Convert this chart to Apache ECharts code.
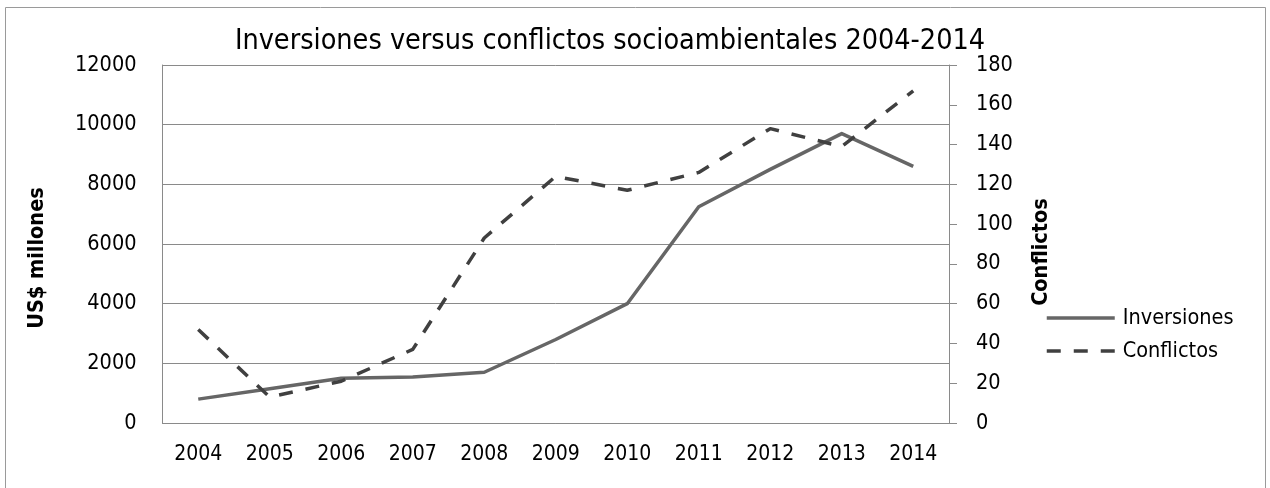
<!DOCTYPE html>
<html>
<head>
<meta charset="utf-8">
<script src="https://cdn.jsdelivr.net/npm/echarts@6/dist/echarts.min.js"></script>
<style>
html,body{margin:0;padding:0;background:#fff;}
#chart{width:1270px;height:488px;}
</style>
</head>
<body>
<div id="chart"></div>
<script>
const years = ['2004','2005','2006','2007','2008','2009','2010','2011','2012','2013','2014'];
const inversiones = [800, 1150, 1500, 1540, 1700, 2800, 4000, 7250, 8500, 9700, 8600];
const conflictos = [47, 13, 21, 37, 93, 124, 117, 126, 148, 139, 167];
const titleText = 'Inversiones versus conflictos socioambientales 2004-2014';
const leftName = 'US$ millones';
const rightName = 'Conflictos';

const FONT = '"DejaVu Sans Condensed", "DejaVu Sans", sans-serif';
const GRAY = '#8a8a8a';
const plain = v => String(v);

const chart = echarts.init(document.getElementById('chart'), null, {renderer: 'canvas'});
chart.setOption({
  animation: false,
  backgroundColor: '#ffffff',
  textStyle: {fontFamily: FONT},
  grid: {left: 162.5, right: 321, top: 65, bottom: 65, containLabel: false},
  graphic: [
    {type: 'rect', shape: {x: 5.5, y: 7.5, width: 1260, height: 490}, style: {fill: 'none', stroke: '#9a9a9a', lineWidth: 1}, silent: true},
    {type: 'text', x: 610, y: 42, style: {text: titleText, font: '28.5px ' + FONT, fill: '#000', textAlign: 'center', textVerticalAlign: 'middle'}},
    {type: 'text', x: 37, y: 258, rotation: Math.PI / 2, style: {text: leftName, font: 'bold 21.5px ' + FONT, fill: '#000', textAlign: 'center', textVerticalAlign: 'middle'}},
    {type: 'text', x: 1041, y: 252, rotation: Math.PI / 2, style: {text: rightName, font: 'bold 21.5px ' + FONT, fill: '#000', textAlign: 'center', textVerticalAlign: 'middle'}}
  ],
  legend: {
    orient: 'vertical',
    left: 1045,
    top: 307,
    padding: 0,
    itemWidth: 68,
    itemHeight: 14,
    itemGap: 11,
    lineStyle: {width: 'inherit'},
    itemStyle: {opacity: 0, borderWidth: 0},
    textStyle: {fontFamily: FONT, fontSize: 21.5, color: '#000', lineHeight: 22, padding: [0, 0, 0, 3]},
    data: ['Inversiones', 'Conflictos']
  },
  xAxis: {
    type: 'category',
    data: years,
    boundaryGap: true,
    axisLine: {show: true, lineStyle: {color: GRAY, width: 1}},
    axisTick: {show: false},
    axisLabel: {color: '#000', fontSize: 21, fontFamily: FONT, margin: 21, interval: 0},
    splitLine: {show: false}
  },
  yAxis: [
    {
      type: 'value', min: 0, max: 12000, interval: 2000, position: 'left',
      axisLine: {show: true, lineStyle: {color: GRAY, width: 1}},
      axisTick: {show: false},
      axisLabel: {color: '#000', fontSize: 21.5, fontFamily: FONT, margin: 26, formatter: plain},
      splitLine: {show: true, lineStyle: {color: GRAY, width: 1}}
    },
    {
      type: 'value', min: 0, max: 180, interval: 20, position: 'right',
      axisLine: {show: true, lineStyle: {color: GRAY, width: 1}},
      axisTick: {show: true, inside: false, length: 8, lineStyle: {color: GRAY, width: 1}},
      axisLabel: {color: '#000', fontSize: 21.5, fontFamily: FONT, margin: 27, formatter: plain},
      splitLine: {show: false}
    }
  ],
  series: [
    {
      name: 'Inversiones', type: 'line', yAxisIndex: 0, data: inversiones,
      symbol: 'none', smooth: false,
      lineStyle: {color: '#666666', width: 3.5, cap: 'butt', join: 'round'},
      itemStyle: {color: '#666666'}
    },
    {
      name: 'Conflictos', type: 'line', yAxisIndex: 1, data: conflictos,
      symbol: 'none', smooth: false,
      lineStyle: {color: '#404040', width: 3.5, type: [14, 13], cap: 'butt', join: 'round'},
      itemStyle: {color: '#404040'}
    }
  ]
});
</script>
</body>
</html>
